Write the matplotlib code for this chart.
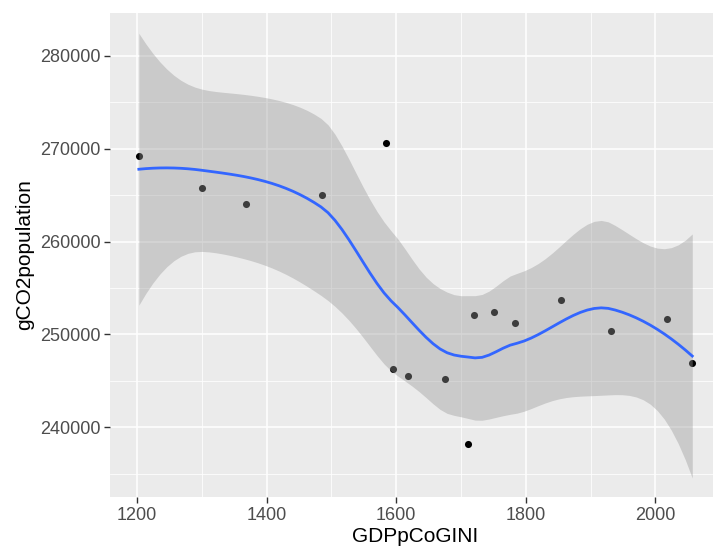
import math
import numpy as np
import matplotlib
matplotlib.use("Agg")
import matplotlib.pyplot as plt
from matplotlib.ticker import MultipleLocator, FixedLocator

# ---- data ----
gdp = [1203, 1300, 1368, 1485, 1585, 1595, 1618, 1675, 1711, 1720,
       1751, 1783, 1854, 1932, 2018, 2057]
co2 = [269250, 265800, 264100, 265060, 270640, 246300, 245560, 245240, 238200, 252100,
       252430, 251180, 253680, 250390, 251640, 246950]
x_ticks = [1200, 1400, 1600, 1800, 2000]
y_ticks = [240000, 250000, 260000, 270000, 280000]
x_label = "GDPpCoGINI"
y_label = "gCO2population"

x = np.array(gdp, dtype=float)
y = np.array(co2, dtype=float)
n = len(x)

# ---- loess (span 0.75, degree 2, tricube, kd-tree interpolation) ----
span = 0.75
q = int(math.floor(n * span))
fc = int(math.floor(n * span * 0.2))


def local_rows(x0):
    d = np.abs(x - x0)
    h = max(np.sort(d)[q - 1], 1e-12)
    u = np.clip(d / h, 0, 1)
    w = (1 - u ** 3) ** 3
    z = (x - x0) / h
    X = np.column_stack([np.ones(n), z, z ** 2])
    A = X.T @ (w[:, None] * X)
    cm = np.linalg.solve(A, X.T * w)
    return cm[0], cm[1] / h


# kd-tree vertices (1-D)
xs = np.sort(x)
rng = xs[-1] - xs[0]
verts = {xs[0] - 0.005 * rng, xs[-1] + 0.005 * rng}


def split(l, u):
    if (u - l + 1) <= fc:
        return
    m = (l + u) // 2
    verts.add(xs[m])
    split(l, m)
    split(m + 1, u)


split(0, n - 1)
verts = np.array(sorted(verts))
vrows = [local_rows(v) for v in verts]


def interp_row(x0):
    k = int(np.clip(np.searchsorted(verts, x0) - 1, 0, len(verts) - 2))
    a, b = verts[k], verts[k + 1]
    dx = b - a
    t = (x0 - a) / dx
    h00 = 2 * t ** 3 - 3 * t ** 2 + 1
    h10 = t ** 3 - 2 * t ** 2 + t
    h01 = -2 * t ** 3 + 3 * t ** 2
    h11 = t ** 3 - t ** 2
    fa, da = vrows[k]
    fb, db = vrows[k + 1]
    return h00 * fa + h10 * dx * da + h01 * fb + h11 * dx * db


L = np.array([interp_row(xi) for xi in x])
res = y - L @ y
IL = np.eye(n) - L
M = IL.T @ IL
delta1 = np.trace(M)
delta2 = np.trace(M @ M)
sigma = math.sqrt(np.sum(res ** 2) / delta1)
df = delta1 ** 2 / delta2


def t_pdf(t, v):
    c = math.exp(math.lgamma((v + 1) / 2) - math.lgamma(v / 2)) / math.sqrt(v * math.pi)
    return c * (1 + t * t / v) ** (-(v + 1) / 2)


def t_quantile(p, v):
    lo, hi = 0.0, 20.0
    for _ in range(60):
        mid = (lo + hi) / 2
        ts = np.linspace(0, mid, 2001)
        cdf = 0.5 + np.trapezoid(t_pdf(ts, v), ts)
        if cdf < p:
            lo = mid
        else:
            hi = mid
    return (lo + hi) / 2


tq = t_quantile(0.975, df)
xg = np.linspace(x.min(), x.max(), 80)
rows = np.array([interp_row(v) for v in xg])
yg = rows @ y
se = sigma * np.sqrt(np.sum(rows ** 2, axis=1))
lower = yg - tq * se
upper = yg + tq * se

# ---- drawing ----
plt.rcParams["font.family"] = ["Liberation Sans", "DejaVu Sans"]
fig = plt.figure(figsize=(7.13, 5.5), dpi=100)
ax = fig.add_axes([110 / 713, 1 - 497 / 550, 1 - 110 / 713 + 0.01, (497 - 13) / 550])
ax.set_facecolor("#EBEBEB")

ax.scatter(x, y, s=26, color="black", zorder=3, linewidths=0)
ax.fill_between(xg, lower, upper, color="#999999", alpha=0.4, linewidth=0, zorder=4)
ax.plot(xg, yg, color="#3366FF", lw=2.0, zorder=5)

ax.set_xlim(1158.5, 2100)
ax.set_ylim(232490, 284620)
ax.xaxis.set_major_locator(FixedLocator(x_ticks))
ax.yaxis.set_major_locator(FixedLocator(y_ticks))
ax.xaxis.set_minor_locator(MultipleLocator(100))
ax.yaxis.set_minor_locator(MultipleLocator(5000))
ax.set_xticklabels([str(v) for v in x_ticks])
ax.set_yticklabels([str(v) for v in y_ticks])

ax.grid(which="major", color="white", lw=1.1, zorder=0)
ax.grid(which="minor", color="white", lw=0.55, zorder=0)
ax.set_axisbelow(True)
for s in ax.spines.values():
    s.set_visible(False)

ax.tick_params(which="major", length=4, width=1.0, color="#333333",
               labelsize=13, labelcolor="#4D4D4D", pad=3)
ax.tick_params(which="minor", length=0)

ax.set_xlabel(x_label, fontsize=15, color="black", labelpad=2)
ax.set_ylabel(y_label, fontsize=15, color="black", labelpad=4)

fig.savefig("out.png", dpi=100)
